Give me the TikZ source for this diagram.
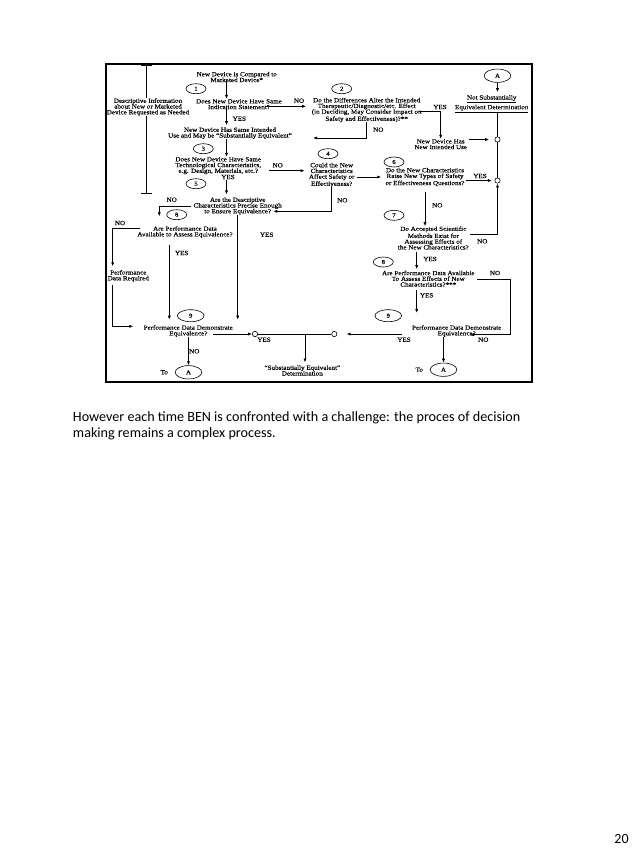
\documentclass[tikz,border=0pt]{standalone}
\usepackage{fontspec}
\setmainfont{Carlito}
\newfontfamily\flowfont[FakeStretch=1.13, FakeBold=0.25]{Liberation Serif}
\usepackage{tikz}
\usetikzlibrary{arrows.meta, shapes.geometric}
\usetikzlibrary{positioning}

\tikzset{
  flow/.style={font=\flowfont\fontsize{4.7}{4.3}\selectfont, align=center, inner sep=0pt},
  lbl/.style={font=\flowfont\fontsize{4.7}{4.3}\selectfont, inner sep=0pt},
  num/.style={ellipse, draw, line width=0.45pt, minimum width=15pt, minimum height=7.5pt, inner sep=0pt, font=\flowfont\fontsize{4.5}{4.5}\selectfont},
  joint/.style={circle, draw, line width=0.45pt, minimum size=4pt, inner sep=0pt},
  wire/.style={line width=0.65pt},
  arr/.style={line width=0.65pt, -{Latex[length=3pt,width=2.4pt]}},
}

\begin{document}
\begin{tikzpicture}[x=0.75pt, y=-0.75pt]
    \useasboundingbox (0,0) rectangle (638,851);
    \draw[line width=1.2pt] (106,64) rectangle (532,382);

    \node[flow] (desc) at (148,107) {Descriptive Information\\about New or Marketed\\Device Requested as Needed};
    \node[flow] (start) at (236.7,77) {New Device is Compared to\\Marketed Device*};
    \node[flow] (q1) at (239,104.2) {Does New Device Have Same\\Indication Statement?};
    \node[flow] (q2) at (366.7,110) {Do the Differences Alter the Intended\\Therapeutic/Diagnostic/etc. Effect\\(in Deciding, May Consider Impact on\\Safety and Effectiveness)?**};
    \node[flow] (nse) at (491.7,104.2) {\underline{Not Substantially}\\\underline{Equivalent Determination}};
    \node[flow] (same) at (230,133.2) {New Device Has Same Intended\\Use and May be “Substantially Equivalent”};
    \node[flow] (newuse) at (440.7,144.2) {New Device Has\\New Intended Use};
    \node[flow] (q3) at (218.3,165.7) {Does New Device Have Same\\Technological Characteristics,\\e.g. Design, Materials, etc.?};
    \node[flow] (q4) at (331.7,174.4) {Could the New\\Characteristics\\Affect Safety or\\Effectiveness?};
    \node[flow] (q6) at (425,177) {Do the New Characteristics\\Raise New Types of Safety\\or Effectiveness Questions?};
    \node[flow] (q5) at (237.7,206) {Are the Descriptive\\Characteristics Precise Enough\\to Ensure Equivalence?};
    \node[flow] (q8L) at (185,232) {Are Performance Data\\Available to Assess Equivalence?};
    \node[flow] (q7) at (433.3,238) {Do Accepted Scientific\\Methods Exist for\\Assessing Effects of\\the New Characteristics?};
    \node[flow] (perfreq) at (128.3,275.9) {Performance\\Data Required};
    \node[flow] (q8R) at (428.3,278.7) {Are Performance Data Available\\To Assess Effects of New\\Characteristics?***};
    \node[flow] (q9L) at (188.3,331) {Performance Data Demonstrate\\Equivalence?};
    \node[flow] (q9R) at (456.7,331) {Performance Data Demonstrate\\Equivalence?};
    \node[flow] (se) at (302.3,370.5) {“Substantially Equivalent”\\Determination};

    \node[num] (n1) at (196,88.7) {1};
    \node[num] (n2) at (341.7,88.7) {2};
    \node[num] (n3) at (203.3,148.7) {3};
    \node[num] (n4) at (328,153.7) {4};
    \node[num] (n5) at (196,183.7) {5};
    \node[num] (n6) at (394,162) {6};
    \node[num] (n7) at (394,215.3) {7};
    \node[num] (n8L) at (176.7,214.7) {8};
    \node[num] (n8R) at (383.3,262) {8};
    \node[num, minimum width=20pt, minimum height=9pt] (n9L) at (190.7,315.7) {9};
    \node[num, minimum width=20pt, minimum height=9pt] (n9R) at (388.3,315.7) {9};
    \node[num, minimum width=20pt, minimum height=10pt] (aTop) at (497.5,75.7) {A};
    \node[num, minimum width=20pt, minimum height=10pt] (aL) at (188.5,372.3) {A};
    \node[num, minimum width=20pt, minimum height=10pt] (aR) at (443.5,369.7) {A};
    \node[lbl, left=5pt of aL] (toL) {To};
    \node[lbl, left=5pt of aR] (toR) {To};

    \node[joint] (j1) at (497.5,139.5) {};
    \node[joint] (j2) at (497.5,180.5) {};
    \node[joint] (j3) at (255,334) {};
    \node[joint] (j4) at (334.3,334) {};

    \coordinate (brTop) at (146.7,64.7);
    \coordinate (brBot) at (146.7,193.7);
    \draw[wire, {Bar[width=8pt]}-] (brTop) -- (desc.north -| brTop);
    \draw[wire, -{Bar[width=8pt]}] (desc.south -| brTop) -- (brBot);

    \coordinate (spine) at (226.5,0);
    \draw[arr] (start.south -| spine) -- (q1.north -| spine);
    \draw[arr, shorten >=1.5pt] (q1.south -| spine) -- (same.north -| spine);
    \draw[arr] (same.south -| spine) -- (q3.north -| spine);
    \draw[arr, shorten <=4pt, shorten >=2pt] (q3.south -| spine) -- (q5.north -| spine);

    \coordinate (q1no) at (266,106.3);
    \draw[arr, shorten >=4pt] (q1no) -- (q1no -| q2.west);
    \coordinate (q2yes) at (419,111.3);
    \draw[arr] (q2yes) -| (newuse.north);
    \coordinate (q2no) at (313,138);
    \draw[arr] (q2.south) |- (q2no);

    \draw[arr, shorten >=2pt] (aTop.south) -- (aTop.south |- nse.north);
    \draw[wire] (nse.south -| aTop) -- (j1.north);
    \draw[wire] (j1.south) -- (j2.north);
    \draw[arr, shorten <=1pt, shorten >=4pt] (newuse.east |- j1) -- (j1.west);
    \draw[arr, shorten <=1pt, shorten >=2pt] (q6.east |- j2) -- (j2.west);
    \coordinate (q7no) at (470,234.7);
    \draw[arr] (q7no) -| (j2.south);

    \coordinate (q3no) at (269,170.7);
    \draw[arr, shorten >=3pt] (q3no) -- (q3no -| q4.west);
    \draw[arr, shorten <=2pt, shorten >=3pt] (q4.east |- q6.west) -- (q6.west);
    \coordinate (q4no) at (273.3,211.3);
    \draw[arr] (q4.south) |- (q4no);
    \draw[arr, shorten <=4pt] (q6.south) -- (q6.south |- q7.north);

    \coordinate (rspine) at (416.7,0);
    \draw[arr, shorten <=2pt, shorten >=1pt] (q7.south -| rspine) -- (q8R.north -| rspine);
    \coordinate (q8yes) at (416.7,313);
    \draw[arr, shorten <=2pt] (q8R.south -| rspine) -- (q8yes);
    \coordinate (q8no) at (510,279.7);
    \coordinate (q9in) at (470,334.7);
    \draw[arr, shorten <=2pt] (q8R.east |- q8no) -- (q8no) |- (q9in);
    \coordinate (q9Ryes) at (402,334);
    \draw[arr, shorten >=7pt] (q9Ryes) -- (j4.east);
    \draw[arr] (q9R.south -| aR) -- (aR.north);

    \draw[wire] (j3.east) -- (j4.west);
    \coordinate (jm) at (305,334);
    \draw[arr, shorten >=2pt] (jm) -- (se.north -| jm);

    \coordinate (q9Lyes) at (213.3,334);
    \draw[arr] (q9Lyes) -- (j3.west);
    \draw[arr] (q9L.south -| aL) -- (aL.north);
    \draw[arr, shorten >=4pt] (q5.south) -- (q5.south |- q9L.north);
    \coordinate (q5no) at (159.3,216.3);
    \draw[arr, shorten <=2pt] (q5.west) -| (q5no);
    \coordinate (q8Lno) at (140,228.7);
    \coordinate (prin) at (112.7,266.3);
    \draw[arr] (q8Lno) -| (prin);
    \coordinate (q9Lin) at (133.3,326.3);
    \draw[arr, shorten <=2pt] (perfreq.south -| prin) |- (q9Lin);
    \coordinate (q8Lyes) at (169.3,244.7);
    \draw[arr, shorten >=4pt] (q8Lyes) -- (q8Lyes |- q9L.north);

    \node[lbl] (noA) at (299,100.7) {NO};
    \node[lbl] (yesA) at (239.3,118.7) {YES};
    \node[lbl] (yesB) at (440,107) {YES};
    \node[lbl] (noB) at (378.3,129.7) {NO};
    \node[lbl] (noC) at (277.7,165.3) {NO};
    \node[lbl] (yesC) at (228,177) {YES};
    \node[lbl] (noD) at (342.3,200.3) {NO};
    \node[lbl] (yesD) at (480,176) {YES};
    \node[lbl] (noE) at (437.3,205.3) {NO};
    \node[lbl] (noF) at (482.3,241.3) {NO};
    \node[lbl] (yesF) at (430,259) {YES};
    \node[lbl] (noG) at (495,273) {NO};
    \node[lbl] (yesG) at (426.7,295.3) {YES};
    \node[lbl] (noH) at (483.3,339.7) {NO};
    \node[lbl] (yesH) at (404,339.7) {YES};
    \node[lbl] (yesI) at (264,339.7) {YES};
    \node[lbl] (noI) at (194.3,351.3) {NO};
    \node[lbl] (noJ) at (171.7,199.7) {NO};
    \node[lbl] (noK) at (120,223) {NO};
    \node[lbl] (yesK) at (181.7,253) {YES};
    \node[lbl] (yesL) at (266.7,234.7) {YES};

    \node[anchor=base west, inner sep=0pt, font=\fontsize{10.6}{12}\selectfont] (cap1) at (72.7,421) {However each time BEN is confronted with a challenge: the proces of decision};
    \node[anchor=base west, inner sep=0pt, font=\fontsize{10.6}{12}\selectfont] (cap2) at (72.7,437) {making remains a complex process.};
    \node[anchor=base, inner sep=0pt, font=\fontsize{10.5}{12}\selectfont] (pgno) at (621.5,843) {20};
\end{tikzpicture}
\end{document}
